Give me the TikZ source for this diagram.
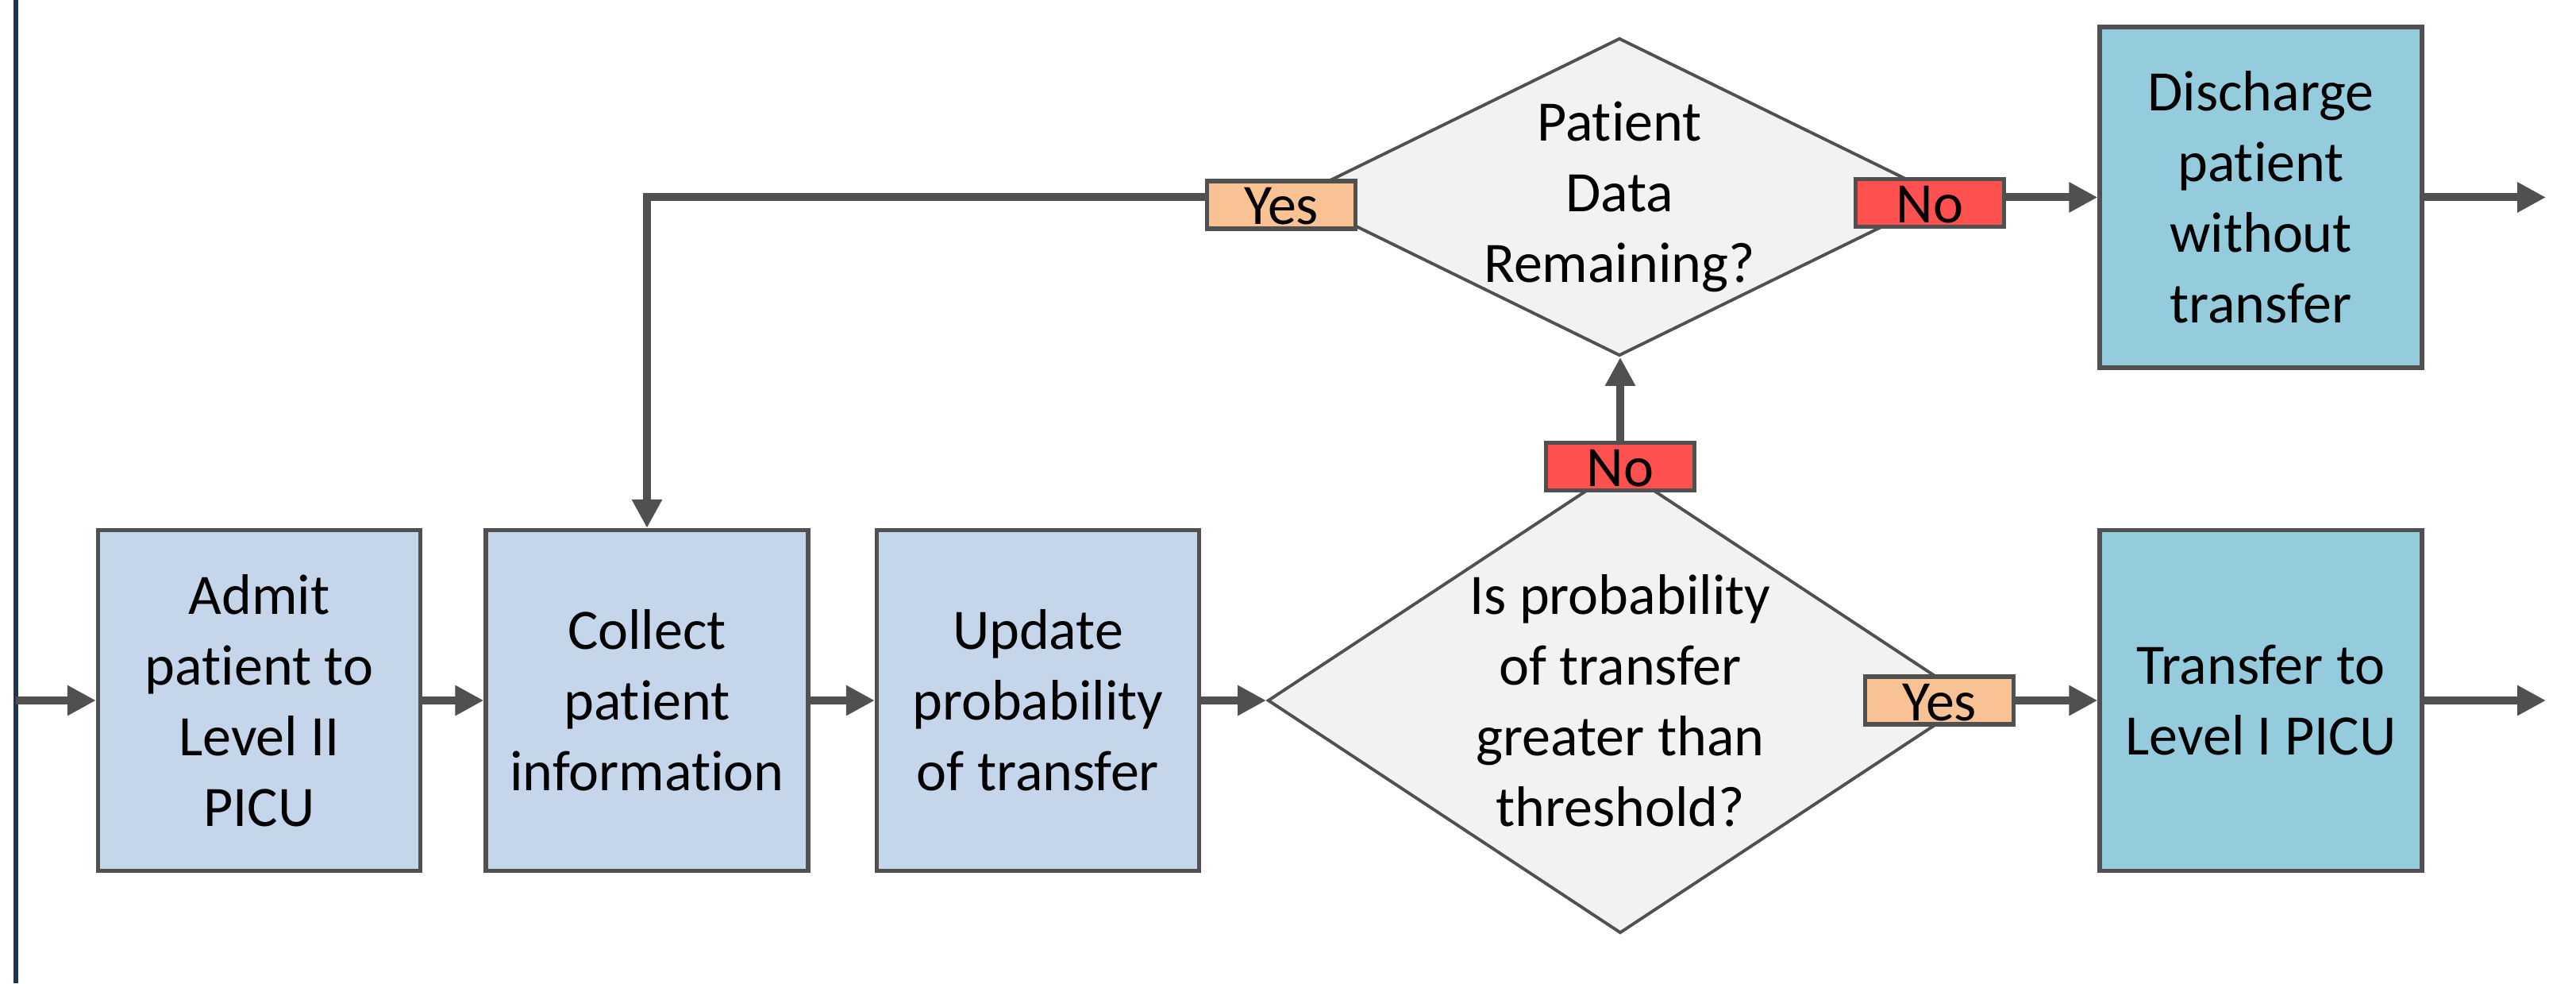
\documentclass[tikz,border=0pt]{standalone}
\usepackage{fontspec}
\setmainfont{Carlito}[Ligatures={NoCommon,NoRare,NoContextual}]
\usepackage{xcolor}
\usetikzlibrary{shapes.geometric,arrows.meta,positioning}

\definecolor{boxblue}{HTML}{C5D5EA}
\definecolor{boxteal}{HTML}{95CCDD}
\definecolor{diagray}{HTML}{F2F2F2}
\definecolor{yesfill}{HTML}{F9C294}
\definecolor{nofill}{HTML}{FF5050}
\definecolor{edge}{HTML}{505050}
\definecolor{navy}{HTML}{203552}

\begin{document}
\begin{tikzpicture}[
  font=\fontsize{20.5}{25.3}\selectfont,
  proc/.style={draw=edge, line width=1.5pt, fill=boxblue, minimum width=4.06cm, minimum height=4.29cm, align=center, inner sep=0pt},
  outcome/.style={proc, fill=boxteal},
  decision/.style={diamond, draw=edge, fill=diagray, line width=1.1pt, inner sep=0pt},
  answer/.style={draw=edge, line width=1.5pt, minimum width=1.87cm, inner sep=0pt, text height=0.55cm, text depth=0.05cm},
  flow/.style={draw=edge, line width=2.85pt, -{Triangle[length=0.36cm,width=0.36cm]}}
]
\useasboundingbox (0,0) rectangle (32.45,12.38);

\draw[navy, line width=1.7pt] (0.20,0) -- (0.20,12.38);

\coordinate (entry) at (0.20,3.56);
\coordinate (outbot) at (32.07,3.56);
\coordinate (outtop) at (32.07,9.895);

% main row
\node[proc] (admit) at (3.265,3.56) {Admit\\patient to\\Level II\\PICU};
\node[proc] (collect) at (8.15,3.56) {Collect\\patient\\information};
\node[proc] (update) at (13.075,3.56) {Update\\probability\\of transfer};

\node[decision, minimum width=8.88cm, minimum height=5.86cm] (threshold) at (20.41,3.56) {};
\node[align=center] (thresholdtxt) at (threshold) {Is probability\\of transfer\\greater than\\threshold?};

\node[decision, minimum width=8.16cm, minimum height=4.00cm] (remaining) at (20.40,9.90) {};
\node[align=center] (remainingtxt) at (remaining) {Patient\\Data\\Remaining?};

\node[outcome] (transfer) at (28.48,3.56) {Transfer to\\Level I PICU};
\node[outcome] (discharge) at (28.48,9.895) {Discharge\\patient\\without\\transfer};

% answers
\node[answer, fill=yesfill] (remyes) at (16.14,9.80) {Yes};
\node[answer, fill=nofill] (remno) at (24.31,9.825) {No};
\node[answer, fill=nofill] (thrno) at (20.41,6.505) {No};
\node[answer, fill=yesfill] (thryes) at (24.43,3.56) {Yes};

\draw[flow] (entry) -- (admit);
\draw[flow] (admit) -- (collect);
\draw[flow] (collect) -- (update);
\draw[flow] (update) -- (threshold);
\draw[flow] (thryes) -- (transfer);
\draw[flow] (thrno.north) -- (thrno.north |- remaining.south);
\draw[flow] (remno.east |- discharge) -- (discharge);
\draw[flow] (remyes.west |- remaining) -| (collect);
\draw[flow] (transfer) -- (outbot);
\draw[flow] (discharge) -- (outtop);

\end{tikzpicture}
\end{document}
